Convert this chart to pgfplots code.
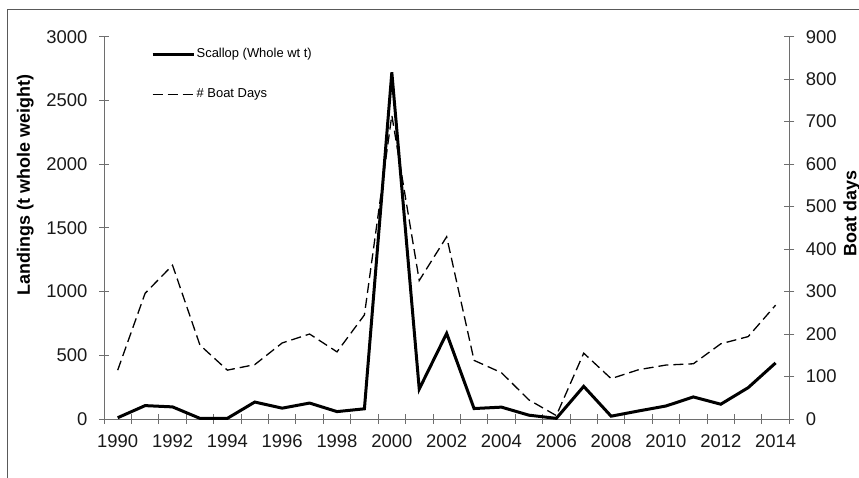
\documentclass[border=0pt]{standalone}
\usepackage{fontspec}
\setmainfont{Liberation Sans}
\usepackage{pgfplots}
\pgfplotsset{compat=1.18}
\usepackage{pgfplotstable}

\pgfplotstableread{
year scallop
1990 10
1991 105
1992 95
1993 5
1994 5
1995 133
1996 85
1997 125
1998 58
1999 80
2000 2720
2001 235
2002 672
2003 82
2004 93
2005 30
2006 5
2007 256
2008 22
2009 63
2010 102
2011 173
2012 116
2013 246
2014 440
}\scallop

\pgfplotstableread{
year days
1990 115
1991 296
1992 362
1993 174
1994 115
1995 128
1996 179
1997 200
1998 158
1999 245
2000 715
2001 326
2002 429
2003 138
2004 109
2005 45
2006 8
2007 155
2008 95
2009 116
2010 127
2011 130
2012 177
2013 194
2014 268
}\boatdays

\definecolor{axgray}{RGB}{110,110,110}

\pgfplotsset{
  common/.style={
    at={(0,0)}, anchor=south west,
    scale only axis, width=685.3bp, height=382.3bp,
    xmin=1989.5, xmax=2014.5, ymin=0,
    tick align=center,
    major tick length=10bp, minor tick length=10bp,
    axis line style={axgray, line width=0.8bp},
    tick style={axgray, line width=0.8bp},
    ticklabel style={font=\fontsize{18.5}{22}\selectfont, text=black!90},
    /pgf/number format/assume math mode=true,
    /pgf/number format/1000 sep={},
    scaled ticks=false,
    clip=false,
  }
}

\begin{document}
\begin{tikzpicture}[x=1bp,y=1bp]
\useasboundingbox (-104,-59) rectangle (755,419);
\draw[black!65, line width=0.8bp] (-97,-80) -- (-97,410) -- (780,410);

% right axis: boat days (drawn first, beneath)
\begin{axis}[common,
  ymax=900,
  axis x line=none,
  axis y line*=right,
  ytick={0,100,...,900},
  yticklabel style={xshift=8bp},
  ylabel={Boat days},
  every axis y label/.style={at={(axis description cs:1.0912,0.538)}, rotate=90, anchor=center, inner sep=0pt, font=\bfseries\fontsize{18}{21}\selectfont},
]
\addplot[black, line width=1.3bp, dash pattern=on 10bp off 5bp] table[x=year, y=days] {\boatdays};
\end{axis}

% left axis: landings
\begin{axis}[common,
  ymax=3000,
  axis x line*=bottom,
  axis y line*=left,
  ytick={0,500,...,3000},
  yticklabel style={xshift=-8bp},
  xtick={1990,1992,...,2014},
  xticklabel style={yshift=-7bp},
  minor xtick={1989.5,1990.5,...,2014.5},
  major x tick style={draw=none},
  ylabel={Landings (t whole weight)},
  every axis y label/.style={at={(axis description cs:-0.1148,0.612)}, rotate=90, anchor=center, inner sep=0pt, font=\bfseries\fontsize{18}{21}\selectfont},
  legend style={at={(axis description cs:0.0685,0.975)}, anchor=north west, draw=none, fill=none,
    font=\fontsize{13}{15}\selectfont, row sep=25bp, inner sep=0pt,
    nodes={inner sep=1.5bp, text height=9.5bp, text depth=3bp}},
  legend cell align=left,
  legend image code/.code={\draw[#1] (0bp,0bp) -- (41bp,0bp);},
]
\addplot[black, line width=3bp] table[x=year, y=scallop] {\scallop};
\addlegendentry{Scallop (Whole wt t)}
\addlegendimage{black, line width=1.3bp, dash pattern=on 10bp off 5bp}
\addlegendentry{\# Boat Days}
\end{axis}
\end{tikzpicture}
\end{document}
